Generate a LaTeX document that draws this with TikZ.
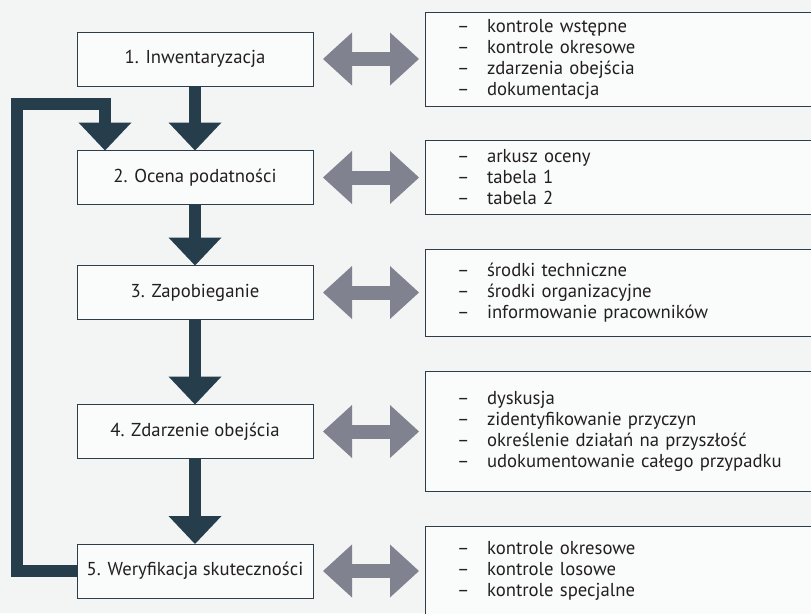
\documentclass[tikz,border=0pt]{standalone}
\usepackage{fontspec}
\setmainfont{PT Sans}
\usetikzlibrary{arrows.meta, calc}
\definecolor{slate}{RGB}{38,61,76}
\definecolor{arrowgray}{RGB}{128,131,143}
\definecolor{bggray}{RGB}{243,244,244}
\definecolor{edgeblue}{RGB}{45,62,74}
\definecolor{textdark}{RGB}{35,31,32}
\newcommand{\dashline}[1]{\makebox[30pt][l]{--}#1}

\begin{document}
\begin{tikzpicture}[x=1pt, y=-1pt,
    stage/.style={rectangle, draw=edgeblue, fill=white!60!bggray, line width=0.8pt, minimum width=236pt, minimum height=54pt, outer sep=0pt, text=textdark, font=\fontsize{18.7}{21}\selectfont},
    detail/.style={rectangle, draw=edgeblue, fill=white!60!bggray, line width=0.8pt, anchor=west, text width=400pt, inner xsep=32pt, inner ysep=0pt, align=left, outer sep=0pt, text=textdark, font=\fontsize{18.7}{21}\selectfont},
    flow/.style={draw=slate, line width=12.7pt, -{Triangle[width=53pt, length=28pt, line width=0pt]}},
    loopback/.style={flow, line join=miter},
    twoway/.style={draw=arrowgray, line width=14pt, {Triangle[width=53pt, length=29pt, line width=0pt]}-{Triangle[width=53pt, length=29pt, line width=0pt]}, shorten <=10pt, shorten >=6pt}
]
    \useasboundingbox (0,0) rectangle (811,613);
    \fill[bggray] (0,0) rectangle (811,613);

    % steps on the left
    \node[stage] (b1) at (195,59) {1. Inwentaryzacja};
    \node[stage] (b2) at (195,177.5) {2. Ocena podatności};
    \node[stage] (b3) at (195,292.5) {3. Zapobieganie};
    \node[stage] (b4) at (195,431.5) {4. Zdarzenie obejścia};
    \node[stage] (b5) at (195,571) {5. Weryfikacja skuteczności};

    % details on the right (open to the right edge)
    \node[detail, minimum height=94pt] (r1) at (425,59) {\dashline{kontrole wstępne}\\\dashline{kontrole okresowe}\\\dashline{zdarzenia obejścia}\\\dashline{dokumentacja}};
    \node[detail, minimum height=74pt] (r2) at (425,177.5) {\dashline{arkusz oceny}\\\dashline{tabela 1}\\\dashline{tabela 2}};
    \node[detail, minimum height=87pt] (r3) at (425,292.5) {\dashline{środki techniczne}\\\dashline{środki organizacyjne}\\\dashline{informowanie pracowników}};
    \node[detail, minimum height=120pt] (r4) at (425,431.5) {\dashline{dyskusja}\\\dashline{zidentyfikowanie przyczyn}\\\dashline{określenie działań na przyszłość}\\\dashline{udokumentowanie całego przypadku}};
    \node[detail, minimum height=90pt] (r5) at (425,571) {\dashline{kontrole okresowe}\\\dashline{kontrole losowe}\\\dashline{kontrole specjalne}};

    \draw[flow] (b1) -- (b2);
    \draw[flow] (b2) -- (b3);
    \draw[flow] (b3) -- (b4);
    \draw[flow] (b4) -- (b5);

    \coordinate (fbturn) at (17,104);
    \coordinate (fbdrop) at (105,104);
    \draw[loopback] (b5.west) -| (fbturn) -| (fbdrop |- b2.north);

    \draw[twoway] (b1) -- (r1);
    \draw[twoway] (b2) -- (r2);
    \draw[twoway] (b3) -- (r3);
    \draw[twoway] (b4) -- (r4);
    \draw[twoway] (b5) -- (r5);
\end{tikzpicture}
\end{document}
